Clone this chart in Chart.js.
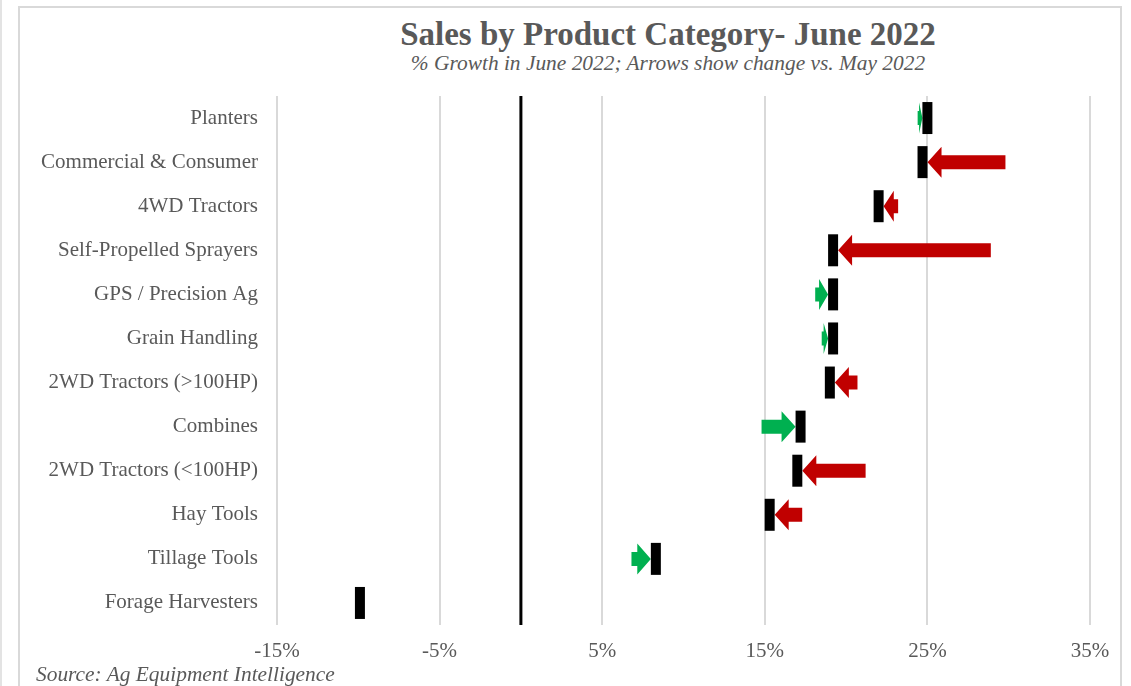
<!DOCTYPE html>
<html>
<head>
<meta charset="utf-8">
<title>Sales by Product Category- June 2022</title>
<script src="https://cdn.jsdelivr.net/npm/chart.js@4/dist/chart.umd.min.js"></script>
<style>
  html, body { margin: 0; padding: 0; background: #fff; }
  body { width: 1131px; height: 686px; overflow: hidden; position: relative; font-family: "Liberation Serif", "Times New Roman", serif; color: #595959; }
  #wrap { position: absolute; left: 0; top: 0; width: 1131px; height: 686px; }
  #frame { position: absolute; left: 18px; top: 6px; width: 1104px; height: 700px; border: 2px solid #D9D9D9; box-sizing: border-box; }
  #edge { position: absolute; left: 0; top: 0; width: 2px; height: 686px; background: #E3E3E3; }
  .title { position: absolute; left: 368px; width: 600px; text-align: center; white-space: nowrap; }
  #chartTitle { top: 14px; font-size: 33px; line-height: 40px; font-weight: bold; }
  #chartSubtitle { top: 51px; font-size: 21.4px; line-height: 24px; font-style: italic; }
  #source { position: absolute; left: 36px; top: 662px; font-size: 21.4px; line-height: 24px; font-style: italic; white-space: nowrap; }
</style>
</head>
<body>
<div id="edge"></div>
<div id="frame"></div>
<div id="chartTitle" class="title">Sales by Product Category- June 2022</div>
<div id="chartSubtitle" class="title">% Growth in June 2022; Arrows show change vs. May 2022</div>
<div id="wrap"><canvas id="salesChart" width="1131" height="686"></canvas></div>
<div id="source">Source: Ag Equipment Intelligence</div>
<script>
// Sales by product category, % growth
const categories = [
    'Planters',
    'Commercial & Consumer',
    '4WD Tractors',
    'Self-Propelled Sprayers',
    'GPS / Precision Ag',
    'Grain Handling',
    '2WD Tractors (>100HP)',
    'Combines',
    '2WD Tractors (<100HP)',
    'Hay Tools',
    'Tillage Tools',
    'Forage Harvesters'
];
const juneGrowth = [25.0, 24.7, 22.0, 19.2, 19.2, 19.2, 19.0, 17.2, 17.0, 15.3, 8.3, -9.9];
const mayGrowth = [24.4, 29.8, 23.2, 28.9, 18.1, 18.5, 20.7, 14.8, 21.2, 17.3, 6.8, null];
const xTicks = [-15, -5, 5, 15, 25, 35];

const UP_COLOR = '#00B050';
const DOWN_COLOR = '#C00000';
const TEXT_COLOR = '#595959';

// draws the zero line and the May -> June arrows under the markers
const arrowPlugin = {
    id: 'arrows',
    beforeDatasetsDraw(chart) {
        const { ctx, chartArea, scales: { x, y } } = chart;
        ctx.save();

        const zx = x.getPixelForValue(0);
        ctx.strokeStyle = '#000';
        ctx.lineWidth = 3;
        ctx.beginPath();
        ctx.moveTo(zx, chartArea.top);
        ctx.lineTo(zx, chartArea.bottom);
        ctx.stroke();

        for (let i = 0; i < categories.length; i++) {
            if (mayGrowth[i] === null) continue;
            const xs = x.getPixelForValue(mayGrowth[i]);
            const xj = x.getPixelForValue(juneGrowth[i]);
            const cy = y.getPixelForValue(i);
            const dir = xj > xs ? 1 : -1;
            const tip = xj - dir * 5;
            const len = Math.abs(tip - xs);
            const head = Math.min(14, len * 0.7);
            const base = tip - dir * head;
            const shaft = 7;
            const wing = 15.5;

            ctx.fillStyle = dir > 0 ? UP_COLOR : DOWN_COLOR;
            ctx.beginPath();
            ctx.moveTo(xs, cy - shaft);
            ctx.lineTo(base, cy - shaft);
            ctx.lineTo(base, cy - wing);
            ctx.lineTo(tip, cy);
            ctx.lineTo(base, cy + wing);
            ctx.lineTo(base, cy + shaft);
            ctx.lineTo(xs, cy + shaft);
            ctx.closePath();
            ctx.fill();
        }
        ctx.restore();
    }
};

const ctx = document.getElementById('salesChart').getContext('2d');
const salesChart = new Chart(ctx, {
    type: 'line',
    data: {
        labels: categories,
        datasets: [
            {
                label: 'June 2022',
                data: juneGrowth,
                showLine: false,
                pointStyle: 'line',
                rotation: 90,
                pointRadius: 16,
                pointHoverRadius: 16,
                pointBorderWidth: 10,
                pointBorderColor: '#000',
                pointBackgroundColor: '#000'
            }
        ]
    },
    options: {
        indexAxis: 'y',
        responsive: false,
        animation: false,
        layout: {
            padding: { left: 20, right: 41, top: 96, bottom: 16 }
        },
        plugins: {
            legend: { display: false },
            tooltip: { enabled: false }
        },
        scales: {
            x: {
                type: 'linear',
                min: -15,
                max: 35,
                afterBuildTicks: (scale) => {
                    scale.ticks = xTicks.map(v => ({ value: v }));
                },
                afterFit: (scale) => {
                    scale.height = 45;
                },
                grid: {
                    color: '#D9D9D9',
                    lineWidth: 2,
                    drawTicks: false
                },
                border: { display: false },
                ticks: {
                    padding: 14,
                    color: TEXT_COLOR,
                    font: { family: 'Liberation Serif', size: 21 },
                    callback: (v) => v + '%'
                }
            },
            y: {
                type: 'category',
                offset: true,
                afterFit: (scale) => {
                    scale.width = 257;
                },
                grid: { display: false, drawTicks: false },
                border: { display: false },
                ticks: {
                    padding: 19,
                    color: TEXT_COLOR,
                    font: { family: 'Liberation Serif', size: 21 }
                }
            }
        }
    },
    plugins: [arrowPlugin]
});
</script>
</body>
</html>
